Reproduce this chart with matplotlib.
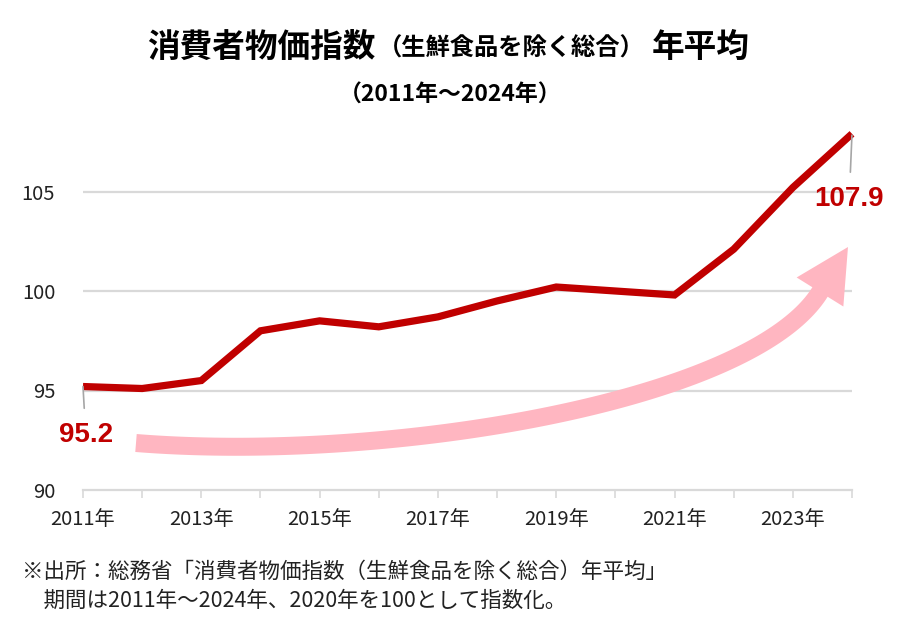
import numpy as np
import matplotlib.pyplot as plt
from matplotlib.patches import Polygon

plt.rcParams['font.family'] = ['Noto Sans CJK JP', 'DejaVu Sans']

# annual average, core CPI (2020 = 100)
years = [2011, 2012, 2013, 2014, 2015, 2016, 2017, 2018, 2019, 2020, 2021, 2022, 2023, 2024]
cpi = [95.2, 95.1, 95.5, 98.0, 98.5, 98.2, 98.7, 99.5, 100.2, 100.0, 99.8, 102.1, 105.2, 107.9]
y_ticks = [90, 95, 100, 105]
x_label_years = [2011, 2013, 2015, 2017, 2019, 2021, 2023]

title_main = '消費者物価指数'
title_paren = '（生鮮食品を除く総合）'
title_tail = '年平均'
subtitle = '（2011年～2024年）'
note1 = '※出所：総務省「消費者物価指数（生鮮食品を除く総合）年平均」'
note2 = '　期間は2011年～2024年、2020年を100として指数化。'

RED = '#C00000'
GRID = '#D9D9D9'
PINK = '#FFB6C1'

W, H = 906, 633
fig = plt.figure(figsize=(W / 100, H / 100), dpi=100)
ax = fig.add_axes([83 / W, 1 - 490 / H, (852 - 83) / W, (490 - 131.8) / H])

ax.set_xlim(years[0], years[-1])
ax.set_ylim(90, 108)

for s in ['top', 'right', 'left']:
    ax.spines[s].set_visible(False)
ax.spines['bottom'].set_color(GRID)
ax.spines['bottom'].set_linewidth(1.6)

ax.set_yticks(y_ticks)
ax.set_yticklabels([str(v) for v in y_ticks])
ax.tick_params(axis='y', length=0, pad=20, labelsize=14.5, labelcolor='#222222')
for v in y_ticks[1:]:
    ax.axhline(v, color=GRID, lw=1.6, zorder=1)

ax.set_xticks(years)
ax.set_xticklabels([f'{y}年' if y in x_label_years else '' for y in years])
ax.tick_params(axis='x', length=6, width=1.2, color=GRID, pad=8,
               labelsize=14.5, labelcolor='#222222')

# pink curved arrow (decoration, pixel space)
P0 = np.array([136, 443.0])
P1 = np.array([386, 463.0])
P3 = np.array([820, 292.0])
tang_end = np.array([0.528, -0.849])
P2 = P3 - 130 * tang_end
t = np.linspace(0, 1, 120)[:, None]
pts = (1 - t) ** 3 * P0 + 3 * (1 - t) ** 2 * t * P1 + 3 * (1 - t) * t ** 2 * P2 + t ** 3 * P3
d = 3 * (1 - t) ** 2 * (P1 - P0) + 6 * (1 - t) * t * (P2 - P1) + 3 * t ** 2 * (P3 - P2)
d = d / np.linalg.norm(d, axis=1)[:, None]
nrm = np.column_stack([-d[:, 1], d[:, 0]])
half = 9
upper = pts + nrm * half
lower = pts - nrm * half
n_end = np.array([-tang_end[1], tang_end[0]])
head = [P3 + n_end * 27.5, P3 + tang_end * 53, P3 - n_end * 27.5]
outline = np.vstack([upper, head, lower[::-1]])
outline_fig = np.column_stack([outline[:, 0] / W, 1 - outline[:, 1] / H])
fig.patches.append(Polygon(outline_fig, closed=True, transform=fig.transFigure,
                           facecolor=PINK, edgecolor='none', zorder=2))

ax.plot(years, cpi, color=RED, lw=5.2, solid_joinstyle='miter',
        solid_capstyle='butt', clip_on=False, zorder=3)

# value labels
ax.annotate(f'{cpi[0]}', xy=(years[0], cpi[0]), xytext=(2, -35),
            textcoords='offset points', ha='center', va='center',
            fontsize=20, fontweight='bold', color=RED, family='Liberation Sans',
            arrowprops=dict(arrowstyle='-', color='#A6A6A6', lw=1.2,
                            shrinkA=8, shrinkB=0))
ax.annotate(f'{cpi[-1]}', xy=(years[-1], cpi[-1]), xytext=(-2, -47),
            textcoords='offset points', ha='center', va='center',
            fontsize=20, fontweight='bold', color=RED, family='Liberation Sans',
            arrowprops=dict(arrowstyle='-', color='#A6A6A6', lw=1.2,
                            shrinkA=8, shrinkB=1))

# titles
fig.text(147 / W, 1 - 47 / H, title_main, fontsize=23.5, fontweight='bold',
         ha='left', va='center')
fig.text(378 / W, 1 - 49 / H, title_paren, fontsize=17.5, fontweight='bold',
         ha='left', va='center')
fig.text(652 / W, 1 - 47 / H, title_tail, fontsize=23.5, fontweight='bold',
         ha='left', va='center')
fig.text(450 / W, 1 - 95 / H, subtitle, fontsize=16.5, fontweight='bold',
         ha='center', va='center')

fig.text(22 / W, 1 - 572 / H, note1, fontsize=15.5, ha='left', va='center', color='#222222')
fig.text(22 / W, 1 - 601 / H, note2, fontsize=15.5, ha='left', va='center', color='#222222')

fig.savefig('out.png', dpi=100)
